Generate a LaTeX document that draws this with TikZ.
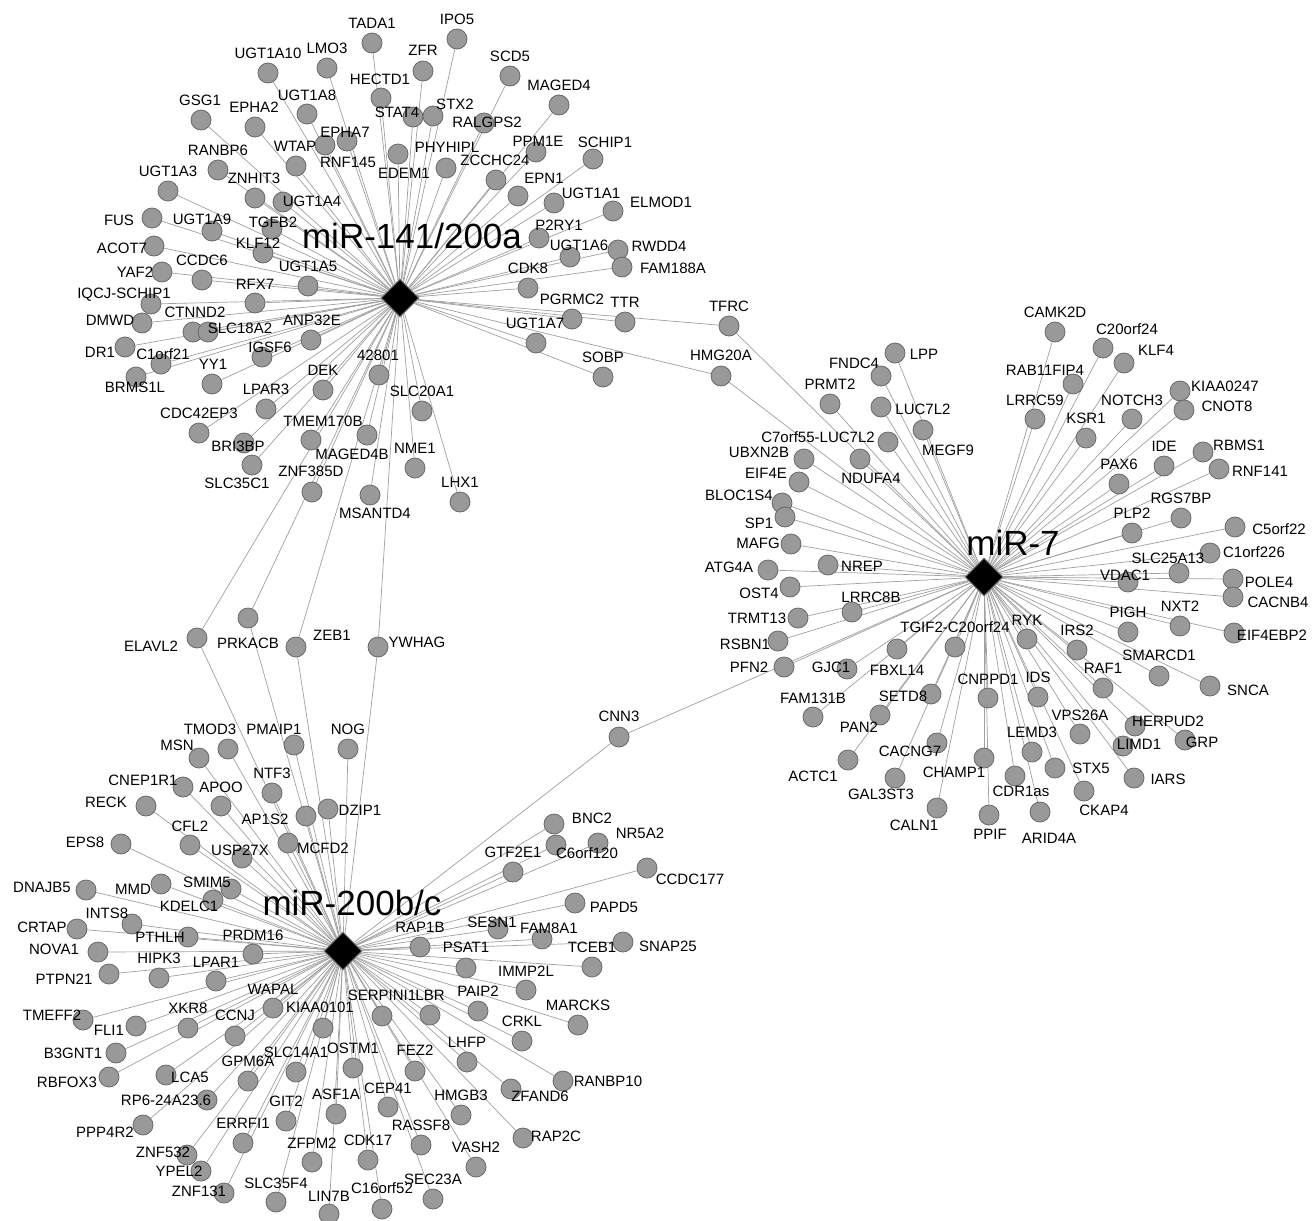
\documentclass[tikz,border=0pt]{standalone}
\usepackage{fontspec}
\setmainfont{Liberation Sans}
\usetikzlibrary{shapes.geometric}
\definecolor{nodegray}{RGB}{153,153,153}
\definecolor{nodeborder}{RGB}{105,105,105}
\definecolor{edgegray}{RGB}{160,160,160}
\definecolor{hubborder}{RGB}{120,120,120}
\pgfdeclarelayer{bg}
\pgfdeclarelayer{edges}
\pgfdeclarelayer{labels}
\pgfsetlayers{bg,edges,main,labels}
\tikzset{
 gene/.style={circle,fill=nodegray,draw=nodeborder,line width=0.8pt,minimum size=20pt,inner sep=0pt},
 hub/.style={diamond,fill=black,draw=hubborder,line width=1pt,minimum width=38pt,minimum height=38pt,inner sep=0pt},
 lab/.style={inner sep=0pt,text height=10.7pt,text depth=0pt,font=\fontsize{15}{16}\selectfont},
 hublab/.style={inner sep=0pt,text height=25pt,text depth=0pt,font=\fontsize{35}{38}\selectfont},
 edge/.style={draw=edgegray,line width=0.7pt}
}
\newcommand\genenode[6]{\node[gene] (#1) at (#2,#3) {};\begin{pgfonlayer}{labels}\node[lab] at (#4,#5) {#6};\end{pgfonlayer}}
\begin{document}
\begin{tikzpicture}[x=1pt,y=-1pt]
\useasboundingbox (0,0) rectangle (1315,1221);
\begin{pgfonlayer}{bg}
\fill[white] (0,0) rectangle (1315,1221);
\end{pgfonlayer}
% hubs
\node[hub] (H1) at (400,298) {};
\node[hub] (H2) at (984,577) {};
\node[hub] (H3) at (343,951) {};
\begin{pgfonlayer}{labels}
\node[hublab] at (412,236) {miR-141/200a};
\node[hublab] at (1013,543) {miR-7};
\node[hublab] at (352,903) {miR-200b/c};
\end{pgfonlayer}
% cluster miR-141/200a
\genenode{TADA1}{372}{43}{372}{23}{TADA1}
\genenode{UGT1A10}{268}{73}{268}{53}{UGT1A10}
\genenode{LMO3}{327}{68}{327}{48}{LMO3}
\genenode{HECTD1}{381}{98}{380}{79}{HECTD1}
\genenode{IPO5}{457}{39}{457}{19}{IPO5}
\genenode{ZFR}{423}{71}{423}{50}{ZFR}
\genenode{SCD5}{510}{76}{510}{56}{SCD5}
\genenode{MAGED4}{559}{105}{559}{85}{MAGED4}
\genenode{GSG1}{201}{120}{200}{100}{GSG1}
\genenode{EPHA2}{255}{127}{254}{107}{EPHA2}
\genenode{UGT1A8}{307}{114}{307}{95}{UGT1A8}
\genenode{STAT4}{413}{117}{397}{112}{STAT4}
\genenode{STX2}{433}{116}{455}{104}{STX2}
\genenode{RALGPS2}{484}{123}{487}{122}{RALGPS2}
\genenode{RNF145}{325}{145}{348}{162}{RNF145}
\genenode{EPHA7}{347}{141}{345}{132}{EPHA7}
\genenode{WTAP}{296}{166}{295}{146}{WTAP}
\genenode{EDEM1}{398}{154}{404}{173}{EDEM1}
\genenode{PHYHIPL}{446}{168}{447}{147}{PHYHIPL}
\genenode{PPM1E}{536}{152}{538}{141}{PPM1E}
\genenode{SCHIP1}{593}{159}{605}{142}{SCHIP1}
\genenode{ZCCHC24}{496}{180}{495}{160}{ZCCHC24}
\genenode{EPN1}{518}{196}{544}{178}{EPN1}
\genenode{UGT1A1}{554}{203}{591}{193}{UGT1A1}
\genenode{ELMOD1}{613}{211}{661}{202}{ELMOD1}
\genenode{P2RY1}{539}{238}{559}{225}{P2RY1}
\genenode{UGT1A6}{570}{257}{579}{245}{UGT1A6}
\genenode{RWDD4}{618}{250}{659}{246}{RWDD4}
\genenode{FAM188A}{622}{267}{673}{268}{FAM188A}
\genenode{CDK8}{528}{288}{528}{268}{CDK8}
\genenode{PGRMC2}{572}{319}{572}{299}{PGRMC2}
\genenode{TTR}{625}{322}{625}{302}{TTR}
\genenode{UGT1A7}{536}{343}{535}{323}{UGT1A7}
\genenode{SOBP}{603}{377}{603}{357}{SOBP}
\genenode{RANBP6}{218}{170}{218}{150}{RANBP6}
\genenode{UGT1A3}{168}{191}{168}{171}{UGT1A3}
\genenode{ZNHIT3}{255}{198}{254}{178}{ZNHIT3}
\genenode{UGT1A4}{283}{202}{312}{201}{UGT1A4}
\genenode{FUS}{152}{218}{119}{220}{FUS}
\genenode{UGT1A9}{212}{231}{202}{219}{UGT1A9}
\genenode{TGFB2}{272}{229}{273}{222}{TGFB2}
\genenode{ACOT7}{154}{246}{122}{248}{ACOT7}
\genenode{KLF12}{263}{253}{258}{243}{KLF12}
\genenode{YAF2}{162}{272}{135}{272}{YAF2}
\genenode{CCDC6}{202}{280}{202}{260}{CCDC6}
\genenode{UGT1A5}{308}{286}{308}{266}{UGT1A5}
\genenode{RFX7}{255}{303}{255}{284}{RFX7}
\genenode{IQCJ-SCHIP1}{151}{304}{124}{293}{IQCJ-SCHIP1}
\genenode{DMWD}{142}{323}{110}{320}{DMWD}
\genenode{CTNND2}{193}{332}{195}{312}{CTNND2}
\genenode{SLC18A2}{208}{332}{240}{328}{SLC18A2}
\genenode{ANP32E}{311}{340}{312}{320}{ANP32E}
\genenode{DR1}{125}{347}{100}{352}{DR1}
\genenode{C1orf21}{161}{364}{163}{354}{C1orf21}
\genenode{IGSF6}{262}{357}{270}{347}{IGSF6}
\genenode{BRMS1L}{136}{377}{135}{387}{BRMS1L}
\genenode{YY1}{212}{384}{213}{364}{YY1}
\genenode{n42801}{379}{375}{378}{355}{42801}
\genenode{DEK}{323}{390}{323}{370}{DEK}
\genenode{LPAR3}{266}{409}{266}{389}{LPAR3}
\genenode{SLC20A1}{422}{411}{422}{391}{SLC20A1}
\genenode{CDC42EP3}{199}{433}{199}{413}{CDC42EP3}
\genenode{TMEM170B}{311}{440}{323}{421}{TMEM170B}
\genenode{MAGED4B}{367}{435}{352}{454}{MAGED4B}
\genenode{BRI3BP}{244}{443}{238}{446}{BRI3BP}
\genenode{SLC35C1}{252}{465}{237}{483}{SLC35C1}
\genenode{ZNF385D}{312}{492}{311}{471}{ZNF385D}
\genenode{MSANTD4}{370}{495}{375}{513}{MSANTD4}
\genenode{NME1}{415}{468}{415}{448}{NME1}
\genenode{LHX1}{460}{502}{460}{482}{LHX1}
% shared
\genenode{ELAVL2}{197}{638}{151}{646}{ELAVL2}
\genenode{PRKACB}{248}{618}{248}{643}{PRKACB}
\genenode{ZEB1}{296}{647}{332}{635}{ZEB1}
\genenode{YWHAG}{378}{647}{417}{642}{YWHAG}
\genenode{TFRC}{729}{326}{729}{306}{TFRC}
\genenode{HMG20A}{721}{376}{721}{355}{HMG20A}
\genenode{CNN3}{619}{737}{619}{716}{CNN3}
% cluster miR-200b/c
\genenode{TMOD3}{228}{749}{210}{729}{TMOD3}
\genenode{MSN}{199}{758}{177}{745}{MSN}
\genenode{PMAIP1}{294}{745}{274}{729}{PMAIP1}
\genenode{NOG}{348}{749}{348}{729}{NOG}
\genenode{CNEP1R1}{183}{787}{143}{780}{CNEP1R1}
\genenode{APOO}{221}{806}{221}{787}{APOO}
\genenode{NTF3}{272}{793}{272}{773}{NTF3}
\genenode{RECK}{146}{806}{106}{802}{RECK}
\genenode{DZIP1}{328}{809}{360}{810}{DZIP1}
\genenode{AP1S2}{306}{816}{265}{819}{AP1S2}
\genenode{MCFD2}{288}{843}{323}{848}{MCFD2}
\genenode{EPS8}{121}{844}{85}{842}{EPS8}
\genenode{CFL2}{190}{845}{190}{826}{CFL2}
\genenode{USP27X}{242}{858}{240}{850}{USP27X}
\genenode{DNAJB5}{86}{890}{42}{887}{DNAJB5}
\genenode{MMD}{161}{884}{133}{889}{MMD}
\genenode{SMIM5}{231}{889}{207}{882}{SMIM5}
\genenode{KDELC1}{213}{900}{189}{906}{KDELC1}
\genenode{CRTAP}{77}{929}{42}{927}{CRTAP}
\genenode{INTS8}{132}{924}{107}{913}{INTS8}
\genenode{PTHLH}{188}{937}{160}{937}{PTHLH}
\genenode{PRDM16}{253}{954}{253}{935}{PRDM16}
\genenode{NOVA1}{98}{952}{54}{949}{NOVA1}
\genenode{HIPK3}{159}{978}{159}{958}{HIPK3}
\genenode{LPAR1}{216}{981}{216}{962}{LPAR1}
\genenode{PTPN21}{109}{974}{64}{979}{PTPN21}
\genenode{WAPAL}{273}{1008}{273}{989}{WAPAL}
\genenode{KIAA0101}{323}{1028}{320}{1007}{KIAA0101}
\genenode{TMEFF2}{83}{1020}{52}{1015}{TMEFF2}
\genenode{XKR8}{188}{1028}{188}{1008}{XKR8}
\genenode{FLI1}{136}{1026}{109}{1030}{FLI1}
\genenode{CCNJ}{235}{1036}{235}{1015}{CCNJ}
\genenode{B3GNT1}{116}{1053}{73}{1053}{B3GNT1}
\genenode{RBFOX3}{109}{1077}{67}{1082}{RBFOX3}
\genenode{LCA5}{166}{1075}{190}{1077}{LCA5}
\genenode{GPM6A}{248}{1081}{248}{1061}{GPM6A}
\genenode{SLC14A1}{296}{1072}{296}{1052}{SLC14A1}
\genenode{OSTM1}{353}{1068}{353}{1048}{OSTM1}
\genenode{RP6-24A23x6}{207}{1100}{166}{1100}{RP6-24A23.6}
\genenode{GIT2}{286}{1121}{286}{1101}{GIT2}
\genenode{ASF1A}{336}{1114}{336}{1094}{ASF1A}
\genenode{PPP4R2}{143}{1125}{105}{1132}{PPP4R2}
\genenode{ERRFI1}{243}{1143}{243}{1123}{ERRFI1}
\genenode{ZFPM2}{312}{1162}{312}{1143}{ZFPM2}
\genenode{CDK17}{368}{1160}{368}{1140}{CDK17}
\genenode{ZNF532}{187}{1155}{163}{1152}{ZNF532}
\genenode{YPEL2}{201}{1171}{179}{1171}{YPEL2}
\genenode{ZNF131}{224}{1193}{199}{1191}{ZNF131}
\genenode{SLC35F4}{276}{1202}{276}{1183}{SLC35F4}
\genenode{LIN7B}{329}{1214}{329}{1196}{LIN7B}
\genenode{C16orf52}{382}{1209}{382}{1188}{C16orf52}
\genenode{SEC23A}{433}{1199}{433}{1179}{SEC23A}
\genenode{CEP41}{388}{1107}{388}{1088}{CEP41}
\genenode{FEZ2}{415}{1071}{415}{1050}{FEZ2}
\genenode{RASSF8}{421}{1145}{421}{1125}{RASSF8}
\genenode{VASH2}{476}{1167}{476}{1147}{VASH2}
\genenode{HMGB3}{461}{1115}{461}{1095}{HMGB3}
\genenode{LHFP}{467}{1062}{467}{1042}{LHFP}
\genenode{ZFAND6}{511}{1089}{540}{1096}{ZFAND6}
\genenode{RAP2C}{523}{1138}{556}{1136}{RAP2C}
\genenode{RANBP10}{563}{1081}{608}{1081}{RANBP10}
\genenode{CRKL}{522}{1041}{522}{1021}{CRKL}
\genenode{MARCKS}{578}{1025}{578}{1005}{MARCKS}
\genenode{SERPINI1}{382}{1016}{382}{995}{SERPINI1}
\genenode{LBR}{430}{1015}{430}{995}{LBR}
\genenode{PAIP2}{478}{1011}{478}{991}{PAIP2}
\genenode{BNC2}{554}{824}{592}{818}{BNC2}
\genenode{NR5A2}{598}{843}{640}{833}{NR5A2}
\genenode{C6orf120}{556}{845}{587}{853}{C6orf120}
\genenode{GTF2E1}{513}{872}{513}{852}{GTF2E1}
\genenode{CCDC177}{647}{868}{690}{879}{CCDC177}
\genenode{PAPD5}{575}{903}{614}{907}{PAPD5}
\genenode{SESN1}{498}{929}{492}{922}{SESN1}
\genenode{FAM8A1}{542}{939}{549}{928}{FAM8A1}
\genenode{RAP1B}{420}{947}{420}{927}{RAP1B}
\genenode{PSAT1}{466}{968}{466}{947}{PSAT1}
\genenode{SNAP25}{623}{942}{668}{946}{SNAP25}
\genenode{TCEB1}{592}{967}{592}{947}{TCEB1}
\genenode{IMMP2L}{526}{990}{526}{971}{IMMP2L}
% cluster miR-7
\genenode{CAMK2D}{1055}{332}{1055}{312}{CAMK2D}
\genenode{C20orf24}{1103}{348}{1127}{329}{C20orf24}
\genenode{KLF4}{1124}{363}{1156}{350}{KLF4}
\genenode{LPP}{895}{353}{924}{354}{LPP}
\genenode{FNDC4}{881}{376}{854}{363}{FNDC4}
\genenode{RAB11FIP4}{1073}{384}{1045}{370}{RAB11FIP4}
\genenode{PRMT2}{830}{404}{830}{384}{PRMT2}
\genenode{LUC7L2}{881}{407}{923}{409}{LUC7L2}
\genenode{LRRC59}{1035}{419}{1035}{400}{LRRC59}
\genenode{NOTCH3}{1132}{419}{1132}{400}{NOTCH3}
\genenode{KIAA0247}{1180}{391}{1225}{386}{KIAA0247}
\genenode{CNOT8}{1184}{410}{1227}{406}{CNOT8}
\genenode{KSR1}{1086}{438}{1086}{418}{KSR1}
\genenode{MEGF9}{923}{430}{948}{450}{MEGF9}
\genenode{C7orf55-LUC7L2}{888}{442}{818}{437}{C7orf55-LUC7L2}
\genenode{UBXN2B}{804}{459}{759}{452}{UBXN2B}
\genenode{NDUFA4}{860}{459}{871}{478}{NDUFA4}
\genenode{EIF4E}{799}{482}{766}{473}{EIF4E}
\genenode{IDE}{1164}{466}{1164}{446}{IDE}
\genenode{RBMS1}{1203}{452}{1239}{445}{RBMS1}
\genenode{RNF141}{1219}{469}{1260}{471}{RNF141}
\genenode{PAX6}{1119}{484}{1119}{464}{PAX6}
\genenode{BLOC1S4}{782}{503}{739}{495}{BLOC1S4}
\genenode{SP1}{785}{517}{759}{523}{SP1}
\genenode{RGS7BP}{1181}{518}{1181}{498}{RGS7BP}
\genenode{PLP2}{1132}{533}{1132}{513}{PLP2}
\genenode{C5orf22}{1235}{527}{1279}{529}{C5orf22}
\genenode{MAFG}{791}{544}{758}{543}{MAFG}
\genenode{C1orf226}{1210}{553}{1254}{552}{C1orf226}
\genenode{SLC25A13}{1179}{573}{1168}{558}{SLC25A13}
\genenode{NREP}{828}{565}{862}{566}{NREP}
\genenode{ATG4A}{768}{570}{729}{567}{ATG4A}
\genenode{VDAC1}{1128}{582}{1125}{575}{VDAC1}
\genenode{POLE4}{1233}{579}{1269}{582}{POLE4}
\genenode{OST4}{790}{587}{759}{593}{OST4}
\genenode{CACNB4}{1233}{597}{1278}{602}{CACNB4}
\genenode{LRRC8B}{852}{612}{871}{597}{LRRC8B}
\genenode{TRMT13}{798}{618}{757}{618}{TRMT13}
\genenode{PIGH}{1128}{632}{1128}{612}{PIGH}
\genenode{NXT2}{1180}{626}{1180}{606}{NXT2}
\genenode{EIF4EBP2}{1234}{633}{1272}{635}{EIF4EBP2}
\genenode{RSBN1}{778}{641}{745}{644}{RSBN1}
\genenode{TGIF2-C20orf24}{955}{647}{955}{627}{TGIF2-C20orf24}
\genenode{RYK}{1027}{639}{1027}{620}{RYK}
\genenode{IRS2}{1077}{650}{1077}{630}{IRS2}
\genenode{FBXL14}{897}{649}{897}{670}{FBXL14}
\genenode{PFN2}{784}{667}{749}{667}{PFN2}
\genenode{GJC1}{847}{669}{831}{667}{GJC1}
\genenode{SMARCD1}{1159}{676}{1159}{655}{SMARCD1}
\genenode{RAF1}{1103}{688}{1103}{668}{RAF1}
\genenode{SNCA}{1210}{686}{1248}{690}{SNCA}
\genenode{CNPPD1}{988}{698}{988}{679}{CNPPD1}
\genenode{IDS}{1038}{697}{1038}{677}{IDS}
\genenode{SETD8}{931}{694}{903}{696}{SETD8}
\genenode{FAM131B}{813}{717}{813}{698}{FAM131B}
\genenode{PAN2}{880}{715}{859}{727}{PAN2}
\genenode{VPS26A}{1080}{734}{1080}{715}{VPS26A}
\genenode{HERPUD2}{1135}{726}{1168}{721}{HERPUD2}
\genenode{LIMD1}{1123}{746}{1139}{744}{LIMD1}
\genenode{GRP}{1185}{740}{1202}{742}{GRP}
\genenode{LEMD3}{1032}{752}{1032}{732}{LEMD3}
\genenode{CACNG7}{937}{743}{910}{751}{CACNG7}
\genenode{CHAMP1}{984}{758}{954}{772}{CHAMP1}
\genenode{ACTC1}{848}{760}{813}{776}{ACTC1}
\genenode{STX5}{1055}{768}{1091}{768}{STX5}
\genenode{GAL3ST3}{895}{778}{881}{794}{GAL3ST3}
\genenode{IARS}{1134}{778}{1168}{779}{IARS}
\genenode{CDR1as}{1015}{776}{1021}{791}{CDR1as}
\genenode{CKAP4}{1084}{791}{1104}{810}{CKAP4}
\genenode{CALN1}{937}{808}{914}{825}{CALN1}
\genenode{PPIF}{989}{815}{990}{834}{PPIF}
\genenode{ARID4A}{1040}{812}{1049}{838}{ARID4A}
% edges
\begin{pgfonlayer}{edges}
\foreach \n in {TADA1,UGT1A10,LMO3,HECTD1,IPO5,ZFR,SCD5,MAGED4,GSG1,EPHA2,UGT1A8,STAT4,STX2,RALGPS2,RNF145,EPHA7,WTAP,EDEM1,PHYHIPL,PPM1E,SCHIP1,ZCCHC24,EPN1,UGT1A1,ELMOD1,P2RY1,UGT1A6,RWDD4,FAM188A,CDK8,PGRMC2,TTR,UGT1A7,SOBP,RANBP6,UGT1A3,ZNHIT3,UGT1A4,FUS,UGT1A9,TGFB2,ACOT7,KLF12,YAF2,CCDC6,UGT1A5,RFX7,IQCJ-SCHIP1,DMWD,CTNND2,SLC18A2,ANP32E,DR1,C1orf21,IGSF6,BRMS1L,YY1,n42801,DEK,LPAR3,SLC20A1,CDC42EP3,TMEM170B,MAGED4B,BRI3BP,SLC35C1,ZNF385D,MSANTD4,NME1,LHX1,ELAVL2,PRKACB,ZEB1,YWHAG,TFRC,HMG20A}
  \draw[edge] (H1) -- (\n);
\foreach \n in {TMOD3,MSN,PMAIP1,NOG,CNEP1R1,APOO,NTF3,RECK,DZIP1,AP1S2,MCFD2,EPS8,CFL2,USP27X,DNAJB5,MMD,SMIM5,KDELC1,CRTAP,INTS8,PTHLH,PRDM16,NOVA1,HIPK3,LPAR1,PTPN21,WAPAL,KIAA0101,TMEFF2,XKR8,FLI1,CCNJ,B3GNT1,RBFOX3,LCA5,GPM6A,SLC14A1,OSTM1,RP6-24A23x6,GIT2,ASF1A,PPP4R2,ERRFI1,ZFPM2,CDK17,ZNF532,YPEL2,ZNF131,SLC35F4,LIN7B,C16orf52,SEC23A,CEP41,FEZ2,RASSF8,VASH2,HMGB3,LHFP,ZFAND6,RAP2C,RANBP10,CRKL,MARCKS,SERPINI1,LBR,PAIP2,BNC2,NR5A2,C6orf120,GTF2E1,CCDC177,PAPD5,SESN1,FAM8A1,RAP1B,PSAT1,SNAP25,TCEB1,IMMP2L,ELAVL2,PRKACB,ZEB1,YWHAG,CNN3}
  \draw[edge] (H3) -- (\n);
\foreach \n in {CAMK2D,C20orf24,KLF4,LPP,FNDC4,RAB11FIP4,PRMT2,LUC7L2,LRRC59,NOTCH3,KIAA0247,CNOT8,KSR1,MEGF9,C7orf55-LUC7L2,UBXN2B,NDUFA4,EIF4E,IDE,RBMS1,RNF141,PAX6,BLOC1S4,SP1,RGS7BP,PLP2,C5orf22,MAFG,C1orf226,SLC25A13,NREP,ATG4A,VDAC1,POLE4,OST4,CACNB4,LRRC8B,TRMT13,PIGH,NXT2,EIF4EBP2,RSBN1,TGIF2-C20orf24,RYK,IRS2,FBXL14,PFN2,GJC1,SMARCD1,RAF1,SNCA,CNPPD1,IDS,SETD8,FAM131B,PAN2,VPS26A,HERPUD2,LIMD1,GRP,LEMD3,CACNG7,CHAMP1,ACTC1,STX5,GAL3ST3,IARS,CDR1as,CKAP4,CALN1,PPIF,ARID4A,TFRC,HMG20A,CNN3}
  \draw[edge] (H2) -- (\n);
\end{pgfonlayer}
\end{tikzpicture}
\end{document}
